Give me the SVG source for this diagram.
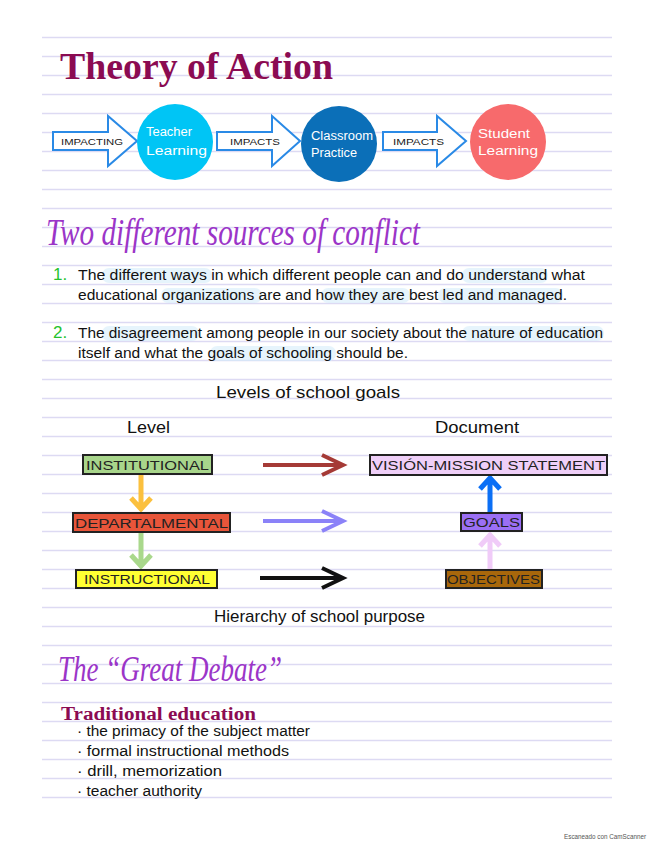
<svg xmlns="http://www.w3.org/2000/svg" width="655" height="848" viewBox="0 0 655 848">
<defs>
<style>
.rule{stroke:#dddaf3;stroke-width:1.6}
.hand{font-family:"Liberation Sans","DejaVu Sans",sans-serif;fill:#111}
.slab{font-family:"Liberation Serif","DejaVu Serif",serif;font-weight:bold;fill:#8b0b52}
.script{font-family:"Liberation Serif","DejaVu Serif",serif;font-style:italic;fill:#9b35c8}
.flowarrow{fill:#fff;stroke:#2a8ae6;stroke-width:2;stroke-linejoin:miter}
.flowtxt{font-family:"Liberation Sans",sans-serif;font-size:9.5px;fill:#222}
.ctxt{font-family:"Liberation Sans",sans-serif;font-size:12px;fill:#fff}
.box{stroke:#222;stroke-width:2}
.btxt{font-family:"Liberation Sans",sans-serif;font-size:12px;fill:#222}
.hl{fill:#d6ecfa;opacity:0.6}
.num{font-family:"Liberation Sans",sans-serif;font-size:17px;fill:#25c22c}
.conn{fill:none;stroke-linecap:butt;stroke-linejoin:miter}
</style>
</defs>
<rect width="655" height="848" fill="#fff"/>
<g id="ruled-lines">
<line class="rule" x1="42" x2="612" y1="37.5" y2="37.5"/><line class="rule" x1="42" x2="612" y1="56.5" y2="56.5"/><line class="rule" x1="42" x2="612" y1="75.5" y2="75.5"/><line class="rule" x1="42" x2="612" y1="94.5" y2="94.5"/><line class="rule" x1="42" x2="612" y1="113.5" y2="113.5"/><line class="rule" x1="42" x2="612" y1="132.5" y2="132.5"/><line class="rule" x1="42" x2="612" y1="151.5" y2="151.5"/><line class="rule" x1="42" x2="612" y1="170.5" y2="170.5"/><line class="rule" x1="42" x2="612" y1="189.5" y2="189.5"/><line class="rule" x1="42" x2="612" y1="208.5" y2="208.5"/><line class="rule" x1="42" x2="612" y1="227.5" y2="227.5"/><line class="rule" x1="42" x2="612" y1="246.5" y2="246.5"/><line class="rule" x1="42" x2="612" y1="265.5" y2="265.5"/><line class="rule" x1="42" x2="612" y1="284.5" y2="284.5"/><line class="rule" x1="42" x2="612" y1="303.5" y2="303.5"/><line class="rule" x1="42" x2="612" y1="322.5" y2="322.5"/><line class="rule" x1="42" x2="612" y1="341.5" y2="341.5"/><line class="rule" x1="42" x2="612" y1="360.5" y2="360.5"/><line class="rule" x1="42" x2="612" y1="379.5" y2="379.5"/><line class="rule" x1="42" x2="612" y1="398.5" y2="398.5"/><line class="rule" x1="42" x2="612" y1="417.5" y2="417.5"/><line class="rule" x1="42" x2="612" y1="436.5" y2="436.5"/><line class="rule" x1="42" x2="612" y1="455.5" y2="455.5"/><line class="rule" x1="42" x2="612" y1="474.5" y2="474.5"/><line class="rule" x1="42" x2="612" y1="493.5" y2="493.5"/><line class="rule" x1="42" x2="612" y1="512.5" y2="512.5"/><line class="rule" x1="42" x2="612" y1="531.5" y2="531.5"/><line class="rule" x1="42" x2="612" y1="550.5" y2="550.5"/><line class="rule" x1="42" x2="612" y1="569.5" y2="569.5"/><line class="rule" x1="42" x2="612" y1="588.5" y2="588.5"/><line class="rule" x1="42" x2="612" y1="607.5" y2="607.5"/><line class="rule" x1="42" x2="612" y1="626.5" y2="626.5"/><line class="rule" x1="42" x2="612" y1="645.5" y2="645.5"/><line class="rule" x1="42" x2="612" y1="664.5" y2="664.5"/><line class="rule" x1="42" x2="612" y1="683.5" y2="683.5"/><line class="rule" x1="42" x2="612" y1="702.5" y2="702.5"/><line class="rule" x1="42" x2="612" y1="721.5" y2="721.5"/><line class="rule" x1="42" x2="612" y1="740.5" y2="740.5"/><line class="rule" x1="42" x2="612" y1="759.5" y2="759.5"/><line class="rule" x1="42" x2="612" y1="778.5" y2="778.5"/><line class="rule" x1="42" x2="612" y1="797.5" y2="797.5"/>
</g>

<g id="title">
<text class="slab" x="60" y="79" font-size="38" textLength="273" lengthAdjust="spacingAndGlyphs">Theory of Action</text>
</g>

<g id="connectors">
<g id="flow-arrow-1">
<path class="flowarrow" d="M53,132 H108 V116 L137,141 L108,166 V150 H53 Z"/>
<text class="flowtxt" x="61" y="144.5" textLength="62" lengthAdjust="spacingAndGlyphs">IMPACTING</text>
</g>
<g id="flow-arrow-2">
<path class="flowarrow" d="M217,132 H272 V116 L300,141 L272,166 V150 H217 Z"/>
<text class="flowtxt" x="230" y="144.5" textLength="50" lengthAdjust="spacingAndGlyphs">IMPACTS</text>
</g>
<g id="flow-arrow-3">
<path class="flowarrow" d="M383,132 H437 V116 L466,141 L437,166 V150 H383 Z"/>
<text class="flowtxt" x="393" y="144.5" textLength="51" lengthAdjust="spacingAndGlyphs">IMPACTS</text>
</g>
<g id="level-arrows">
<path class="conn" d="M141,474 V508 M131,498 L141,509 L151,498" stroke="#fbc03e" stroke-width="5"/>
<path class="conn" d="M141,533 V565 M131,555 L141,566 L151,555" stroke="#a9d88c" stroke-width="5"/>
<path class="conn" d="M490,512 V479 M480,489 L490,478 L500,489" stroke="#0b6ff5" stroke-width="5"/>
<path class="conn" d="M490,570 V536 M480,546 L490,535 L500,546" stroke="#f0cbf8" stroke-width="5"/>
<path class="conn" d="M263,465 H341 M322,455 L343,465 L322,475" stroke="#a53a36" stroke-width="4"/>
<path class="conn" d="M263,521 H341 M322,511 L343,521 L322,531" stroke="#8b82f8" stroke-width="4"/>
<path class="conn" d="M260,578 H341 M322,568 L343,578 L322,588" stroke="#111" stroke-width="4"/>
</g>
</g>

<g id="teacher-learning">
<circle cx="175" cy="142" r="38" fill="#00c5f5"/>
<text class="ctxt" x="146" y="136" textLength="46" lengthAdjust="spacingAndGlyphs">Teacher</text>
<text class="ctxt" x="146" y="155" textLength="61" lengthAdjust="spacingAndGlyphs">Learning</text>
</g>
<g id="classroom-practice">
<circle cx="339" cy="144" r="38" fill="#0b6fb8"/>
<text class="ctxt" x="311" y="140" textLength="62" lengthAdjust="spacingAndGlyphs">Classroom</text>
<text class="ctxt" x="311" y="157" textLength="46" lengthAdjust="spacingAndGlyphs">Practice</text>
</g>
<g id="student-learning">
<circle cx="508" cy="142" r="38" fill="#f76a6c"/>
<text class="ctxt" x="478" y="138" textLength="52" lengthAdjust="spacingAndGlyphs">Student</text>
<text class="ctxt" x="478" y="155" textLength="60" lengthAdjust="spacingAndGlyphs">Learning</text>
</g>

<g id="conflict">
<text class="script" x="46" y="245" font-size="38" textLength="374" lengthAdjust="spacingAndGlyphs">Two different sources of conflict</text>
<rect class="hl" x="102" y="268" width="110" height="15" rx="7"/>
<rect class="hl" x="462" y="268" width="86" height="15" rx="7"/>
<rect class="hl" x="161" y="288" width="101" height="15" rx="7"/>
<rect class="hl" x="321" y="288" width="89" height="15" rx="7"/>
<rect class="hl" x="438" y="288" width="125" height="15" rx="7"/>
<rect class="hl" x="102" y="326" width="97" height="15" rx="7"/>
<rect class="hl" x="462" y="326" width="142" height="15" rx="7"/>
<rect class="hl" x="210" y="346" width="126" height="15" rx="7"/>
<text class="num" x="53" y="280">1.</text>
<text class="hand" x="78" y="280" font-size="14" textLength="507" lengthAdjust="spacingAndGlyphs">The different ways in which different people can and do understand what</text>
<text class="hand" x="78" y="300" font-size="14" textLength="489" lengthAdjust="spacingAndGlyphs">educational organizations are and how they are best led and managed.</text>
<text class="num" x="53" y="338">2.</text>
<text class="hand" x="78" y="338" font-size="14" textLength="525" lengthAdjust="spacingAndGlyphs">The disagreement among people in our society about the nature of education</text>
<text class="hand" x="78" y="358" font-size="14" textLength="330" lengthAdjust="spacingAndGlyphs">itself and what the goals of schooling should be.</text>
</g>

<g id="levels-labels">
<text class="hand" x="216" y="398" font-size="17" textLength="184" lengthAdjust="spacingAndGlyphs">Levels of school goals</text>
<text class="hand" x="127" y="433" font-size="16" textLength="43" lengthAdjust="spacingAndGlyphs">Level</text>
<text class="hand" x="435" y="433" font-size="16" textLength="84" lengthAdjust="spacingAndGlyphs">Document</text>
<text class="hand" x="214" y="622" font-size="17" textLength="211" lengthAdjust="spacingAndGlyphs">Hierarchy of school purpose</text>
</g>

<g id="institutional">
<rect class="box" x="83" y="455" width="129" height="19" fill="#a8d58b"/>
<text class="btxt" x="86" y="469.5" textLength="123" lengthAdjust="spacingAndGlyphs">INSTITUTIONAL</text>
</g>
<g id="departalmental">
<rect class="box" x="73" y="513" width="157" height="19" fill="#e8553a"/>
<text class="btxt" x="75" y="527.5" textLength="153" lengthAdjust="spacingAndGlyphs">DEPARTALMENTAL</text>
</g>
<g id="instructional">
<rect class="box" x="76" y="570" width="141" height="18" fill="#ffff33"/>
<text class="btxt" x="84" y="584" textLength="126" lengthAdjust="spacingAndGlyphs">INSTRUCTIONAL</text>
</g>
<g id="vision-mission">
<rect class="box" x="370" y="455" width="237" height="20" fill="#efcff8"/>
<text class="btxt" x="372" y="469.5" textLength="233" lengthAdjust="spacingAndGlyphs">VISIÓN-MISSION STATEMENT</text>
</g>
<g id="goals">
<rect class="box" x="461" y="513" width="61" height="18" fill="#9b6ff5"/>
<text class="btxt" x="463" y="527" textLength="57" lengthAdjust="spacingAndGlyphs">GOALS</text>
</g>
<g id="objectives">
<rect class="box" x="446" y="570" width="96" height="18" fill="#a8670b"/>
<text class="btxt" x="447" y="584" textLength="93" lengthAdjust="spacingAndGlyphs">OBJECTIVES</text>
</g>

<g id="great-debate">
<text class="script" x="58" y="681" font-size="36" textLength="224" lengthAdjust="spacingAndGlyphs">The “Great Debate”</text>
<text class="slab" x="61" y="719.5" font-size="18" textLength="195" lengthAdjust="spacingAndGlyphs">Traditional education</text>
<text class="hand" x="77" y="736" font-size="14" textLength="233" lengthAdjust="spacingAndGlyphs">· the primacy of the subject matter</text>
<text class="hand" x="77" y="756" font-size="14" textLength="212" lengthAdjust="spacingAndGlyphs">· formal instructional methods</text>
<text class="hand" x="77" y="776" font-size="14" textLength="145" lengthAdjust="spacingAndGlyphs">· drill, memorization</text>
<text class="hand" x="77" y="796" font-size="14" textLength="125" lengthAdjust="spacingAndGlyphs">· teacher authority</text>
</g>

<g id="footer">
<text x="646" y="839" text-anchor="end" font-family="Liberation Sans, sans-serif" font-size="6.3" fill="#555">Escaneado con CamScanner</text>
</g>
</svg>
